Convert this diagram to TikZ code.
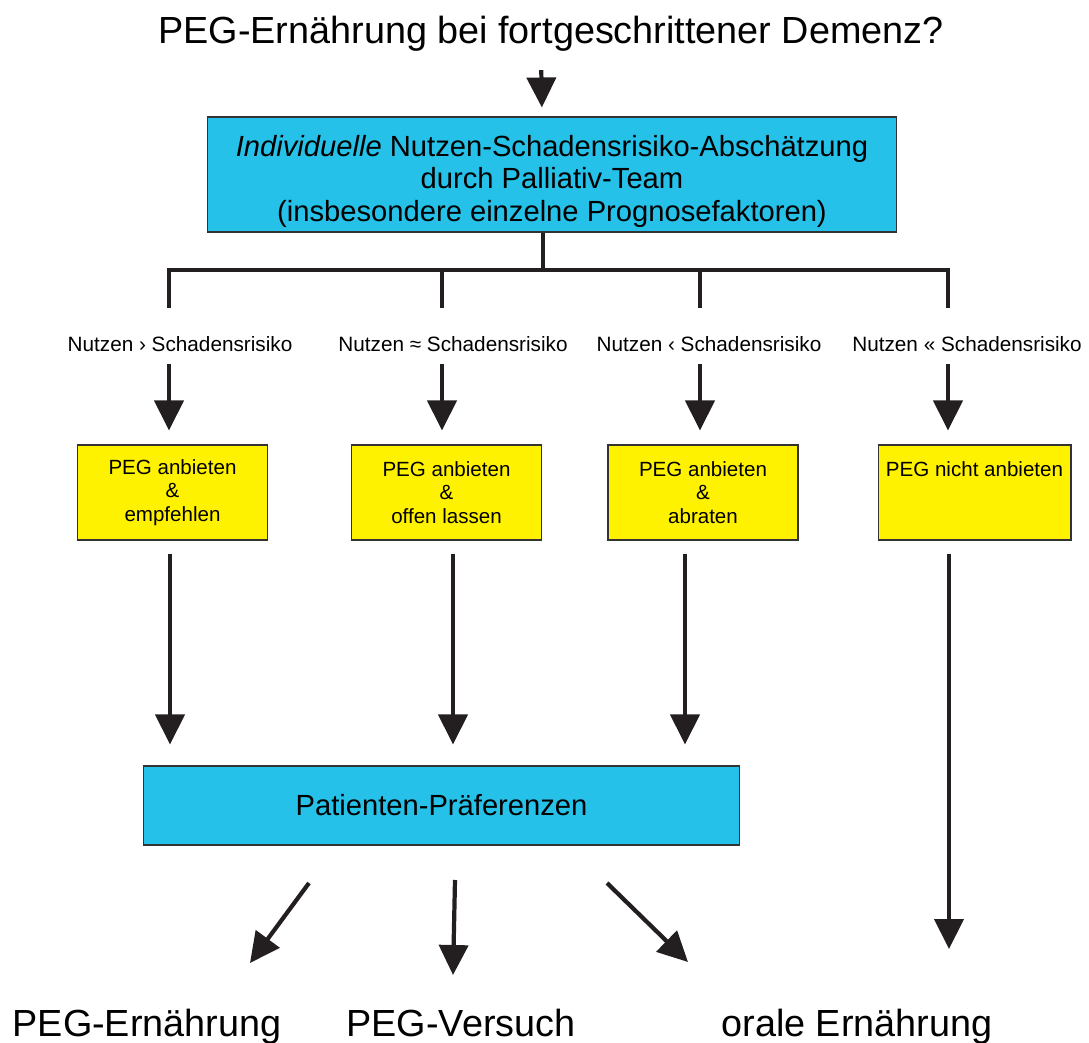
\documentclass[tikz,border=0pt]{standalone}
\usepackage{fontspec}
\setmainfont{Liberation Sans}
\usetikzlibrary{arrows.meta}
\definecolor{pegblue}{RGB}{37,193,232}
\definecolor{pegyellow}{RGB}{255,242,0}
\definecolor{pegblack}{RGB}{35,31,32}
\tikzset{   block/.style = {draw=black!80, line width=0.6pt, fill=pegblue, rectangle, align=center, inner sep=0pt, font=\fontsize{16.6}{18.4}\selectfont},
            choice/.style = {draw=black!80, line width=0.6pt, fill=pegyellow, rectangle, align=center, inner sep=0pt, minimum height=1.9cm, minimum width=3.8cm, font=\fontsize{11.7}{13.2}\selectfont},
            cond/.style = {inner sep=0pt, font=\fontsize{11.8}{13}\selectfont},
            big/.style = {inner sep=0pt, anchor=base, font=\fontsize{21.5}{24}\selectfont},
            line/.style = {line width=2.4pt, pegblack},
            arr/.style = {line, -{Triangle[length=0.6cm, width=0.58cm]}}}

\begin{document}
\begin{tikzpicture}[x=0.02cm, y=-0.02cm]
    \useasboundingbox (0,0) rectangle (1089,1043);
    \node[big](title)at(551,44){PEG-Ernährung bei fortgeschrittener Demenz?};
    \node[block, minimum width=13.8cm, minimum height=2.3cm](top)at(552,174.5){\rule{0pt}{0.7cm}\textit{Individuelle} Nutzen-Schadensrisiko-Abschätzung\\durch Palliativ-Team\\(insbesondere einzelne Prognosefaktoren)};
    \draw[arr, shorten <=0.36cm, shorten >=0.18cm]([xshift=-0.2cm]title.south)--([xshift=-0.2cm]top.north);

    \coordinate(b1)at(169,270);
    \coordinate(b2)at(442,270);
    \coordinate(b3)at(700,270);
    \coordinate(b4)at(948,270);
    \coordinate(t1)at(169,308);
    \coordinate(t2)at(442,308);
    \coordinate(t3)at(700,308);
    \coordinate(t4)at(948,308);
    \draw[line]([xshift=-0.18cm]top.south)--([xshift=-0.18cm]top.south |- b1);
    \draw[line](t1)--(b1)--(b4)--(t4);
    \draw[line](b2)--(t2);
    \draw[line](b3)--(t3);

    \node[cond](l1)at(180,344){Nutzen › Schadensrisiko};
    \node[cond](l2)at(453,344){Nutzen ≈ Schadensrisiko};
    \node[cond](l3)at(709,344){Nutzen ‹ Schadensrisiko};
    \node[cond](l4)at(967,344){Nutzen « Schadensrisiko};

    \node[choice](y1)at(172.5,492.5){PEG anbieten\\\&\\empfehlen};
    \node[choice](y2)at(446.5,492.5){PEG anbieten\\\&\\offen lassen};
    \node[choice](y3)at(703,492.5){PEG anbieten\\\&\\abraten};
    \node[choice, minimum width=3.86cm](y4)at(974.5,492.5){PEG nicht anbieten\\~\\~};
    \draw[arr, shorten <=0.24cm, shorten >=0.28cm](l1.south -| t1)--(y1.north -| t1);
    \draw[arr, shorten <=0.24cm, shorten >=0.28cm](l2.south -| t2)--(y2.north -| t2);
    \draw[arr, shorten <=0.24cm, shorten >=0.28cm](l3.south -| t3)--(y3.north -| t3);
    \draw[arr, shorten <=0.24cm, shorten >=0.28cm](l4.south -| t4)--(y4.north -| t4);

    \node[block, minimum width=11.94cm, minimum height=1.58cm](pp)at(441.5,805.5){Patienten-Präferenzen};
    \coordinate(c1)at(170,0);
    \coordinate(c2)at(453,0);
    \coordinate(c3)at(685,0);
    \coordinate(c4)at(949,0);
    \coordinate(e4)at(949,949);
    \draw[arr, shorten <=0.26cm, shorten >=0.42cm](y1.south -| c1)--(pp.north -| c1);
    \draw[arr, shorten <=0.26cm, shorten >=0.42cm](y2.south -| c2)--(pp.north -| c2);
    \draw[arr, shorten <=0.26cm, shorten >=0.42cm](y3.south -| c3)--(pp.north -| c3);
    \draw[arr, shorten <=0.26cm](y4.south -| c4)--(e4);

    \node[big](pe)at(147,1036){PEG-Ernährung};
    \node[big](pv)at(461,1036){PEG-Versuch};
    \node[big](oe)at(857,1036){orale Ernährung};
    \coordinate(p1)at(309,883);
    \coordinate(q1)at(250,963);
    \coordinate(p2)at(455,880);
    \coordinate(q2)at(453,975);
    \coordinate(p3)at(607,883);
    \coordinate(q3)at(688,962);
    \draw[arr](p1)--(q1);
    \draw[arr](p2)--(q2);
    \draw[arr](p3)--(q3);
\end{tikzpicture}
\end{document}
